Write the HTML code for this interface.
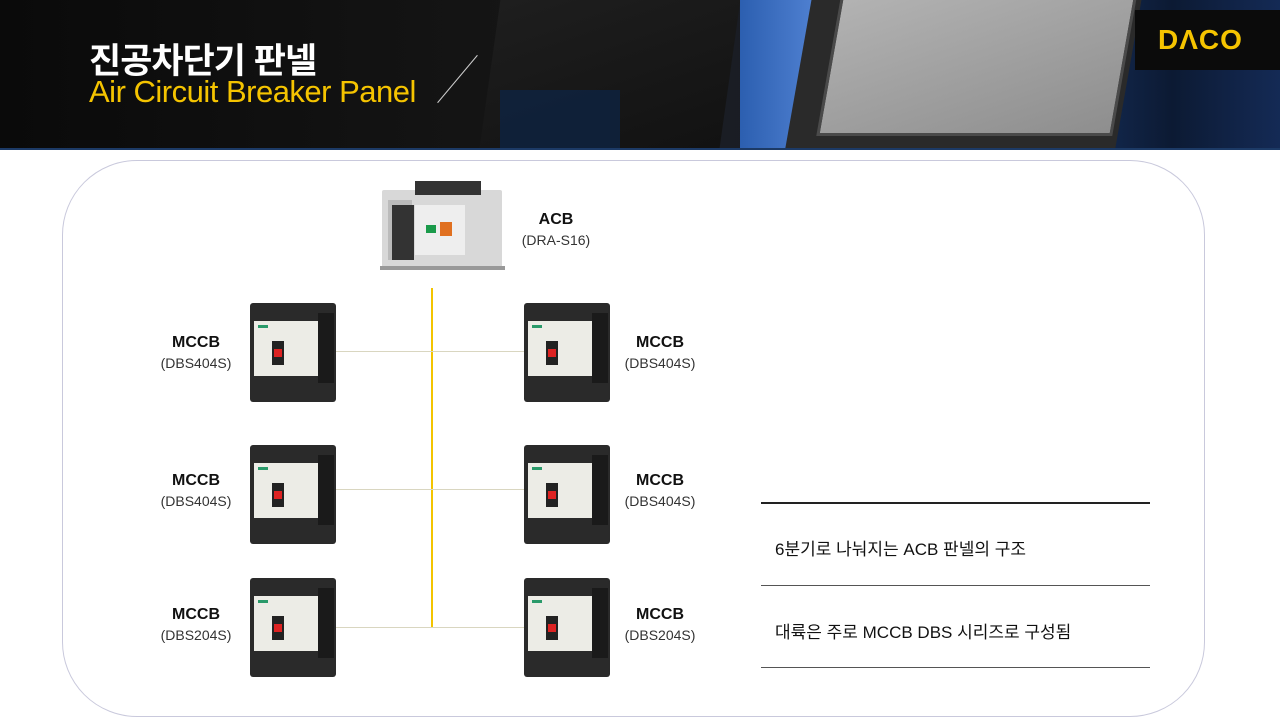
<!DOCTYPE html>
<html><head><meta charset="utf-8"><style>
body{margin:0;width:1280px;height:720px;position:relative;background:#fff;font-family:"Liberation Sans","Noto Sans CJK KR",sans-serif;overflow:hidden}
.hdr{position:absolute;left:0;top:0;width:1280px;height:148px;background:linear-gradient(90deg,#0a0a0a 0%,#151515 40%,#1a1d24 56%,#0c1424 100%);overflow:hidden;border-bottom:2px solid #1c3a66}
.abs{position:absolute}
.card{position:absolute;left:62px;top:160px;width:1141px;height:555px;border:1px solid #c9c9dc;border-radius:75px}
.lbl{position:absolute;width:120px;text-align:center;color:#111}
.lbl b{display:block;font-size:16px;font-weight:bold;line-height:20px}
.lbl span{display:block;font-size:14px;line-height:20px;color:#333}
.hl{position:absolute;height:1px;background:#d9d6c0}
</style></head><body>
<div class="hdr">
 <div class="abs" style="left:490px;top:0;width:240px;height:148px;background:linear-gradient(160deg,#1e1e1e,#121212);transform:skewX(-8deg)"></div>
 <div class="abs" style="left:500px;top:90px;width:120px;height:58px;background:#0d2547;opacity:.7"></div>
 <div class="abs" style="left:740px;top:0;width:540px;height:148px;background:linear-gradient(90deg,#2c5fb0,#5f8fe0 20%,#1d3e78 45%,#0c1a33 80%,#142a55)"></div>
 <div class="abs" style="left:800px;top:-30px;width:330px;height:190px;background:#2a2a2a;transform:skewX(-10deg)"></div>
 <div class="abs" style="left:830px;top:-20px;width:290px;height:150px;background:linear-gradient(160deg,#b5b5b5,#8e8e8e);transform:skewX(-10deg);border:3px solid #4a4a4a"></div>
 <div class="abs" style="left:1135px;top:10px;width:145px;height:60px;background:#0b0b0b"></div>
 <div class="abs" style="left:1158px;top:24px;font-size:28px;font-weight:bold;color:#f5c400;letter-spacing:1px">DΛCO</div>
 <div class="abs" style="left:89px;top:33px;font-size:35px;font-weight:bold;color:#fff;letter-spacing:-1px">진공차단기 판넬</div>
 <div class="abs" style="left:89px;top:74px;font-size:31px;color:#f5c400;letter-spacing:-0.5px">Air Circuit Breaker Panel</div>
 <div class="abs" style="left:457px;top:48px;width:1px;height:62px;background:#ccc;transform:rotate(40deg)"></div>
</div>
<div class="card"></div>

<div class="abs" style="left:382px;top:190px;width:120px;height:78px;background:#d8d8d8;border-radius:2px"></div>
<div class="abs" style="left:415px;top:181px;width:66px;height:14px;background:#333"></div>
<div class="abs" style="left:388px;top:200px;width:24px;height:60px;background:#bbb"></div>
<div class="abs" style="left:392px;top:205px;width:22px;height:55px;background:#333"></div>
<div class="abs" style="left:415px;top:205px;width:50px;height:50px;background:#eee"></div>
<div class="abs" style="left:426px;top:225px;width:10px;height:8px;background:#1a9a4a"></div>
<div class="abs" style="left:440px;top:222px;width:12px;height:14px;background:#e07020"></div>
<div class="abs" style="left:380px;top:266px;width:125px;height:4px;background:#999"></div>
<div class="lbl" style="left:496px;top:210px"><b>ACB</b><span>(DRA-S16)</span></div>

<div class="abs" style="left:431px;top:288px;width:2px;height:340px;background:#f3c400"></div>
<div class="hl" style="left:336px;top:351px;width:190px"></div>
<div class="hl" style="left:336px;top:489px;width:190px"></div>
<div class="hl" style="left:336px;top:627px;width:190px"></div>

<div id="m"></div>
<script>
var pos=[[250,303],[250,445],[250,578],[524,303],[524,445],[524,578]];
var h='';
pos.forEach(function(p){
 var x=p[0],y=p[1];
 h+='<div class="abs" style="left:'+x+'px;top:'+y+'px;width:86px;height:99px;background:#2a2a2a;border-radius:3px"></div>';
 h+='<div class="abs" style="left:'+(x+4)+'px;top:'+(y+18)+'px;width:64px;height:55px;background:#ecece6"></div>';
 h+='<div class="abs" style="left:'+(x+68)+'px;top:'+(y+10)+'px;width:16px;height:70px;background:#1a1a1a"></div>';
 h+='<div class="abs" style="left:'+(x+22)+'px;top:'+(y+38)+'px;width:12px;height:24px;background:#222"></div>';
 h+='<div class="abs" style="left:'+(x+24)+'px;top:'+(y+46)+'px;width:8px;height:8px;background:#d22"></div>';
 h+='<div class="abs" style="left:'+(x+8)+'px;top:'+(y+22)+'px;width:10px;height:3px;background:#2a9a6a"></div>';
});
document.getElementById('m').innerHTML=h;
</script>

<div class="lbl" style="left:136px;top:333px"><b>MCCB</b><span>(DBS404S)</span></div>
<div class="lbl" style="left:136px;top:471px"><b>MCCB</b><span>(DBS404S)</span></div>
<div class="lbl" style="left:136px;top:605px"><b>MCCB</b><span>(DBS204S)</span></div>
<div class="lbl" style="left:600px;top:333px"><b>MCCB</b><span>(DBS404S)</span></div>
<div class="lbl" style="left:600px;top:471px"><b>MCCB</b><span>(DBS404S)</span></div>
<div class="lbl" style="left:600px;top:605px"><b>MCCB</b><span>(DBS204S)</span></div>

<div class="abs" style="left:761px;top:502px;width:389px;height:2px;background:#222"></div>
<div class="abs" style="left:761px;top:585px;width:389px;height:1px;background:#555"></div>
<div class="abs" style="left:761px;top:667px;width:389px;height:1px;background:#555"></div>
<div class="abs" style="left:775px;top:535px;font-size:17px;color:#111">6분기로 나눠지는 ACB 판넬의 구조</div>
<div class="abs" style="left:775px;top:618px;font-size:17px;color:#111">대륙은 주로 MCCB DBS 시리즈로 구성됨</div>
</body></html>
